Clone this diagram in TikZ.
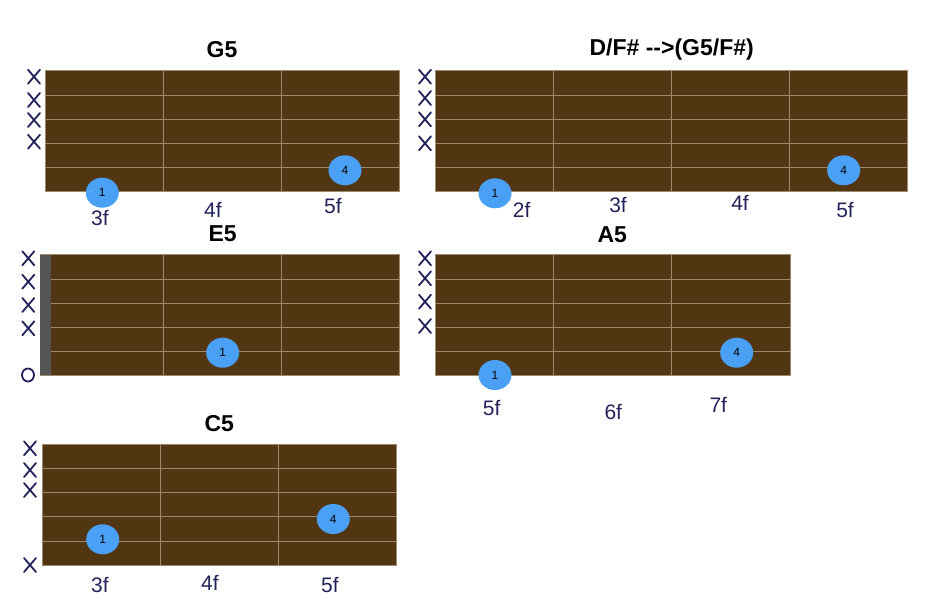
\documentclass[tikz,border=0pt]{standalone}
\usepackage{fontspec}
\setmainfont{Liberation Sans}
\usetikzlibrary{shapes.geometric}
\definecolor{board}{HTML}{523612}
\definecolor{fretline}{HTML}{9B8A70}
\definecolor{dotblue}{HTML}{4AA0F5}
\definecolor{nutgray}{HTML}{555555}
\definecolor{ink}{HTML}{22225A}
\tikzset{
  gridline/.style={draw=fretline,line width=0.6pt},
  title/.style={font=\fontsize{23}{26}\selectfont\bfseries,text=black},
  fdot/.style={ellipse,fill=dotblue,minimum width=33pt,minimum height=30pt,inner sep=0pt,font=\fontsize{12}{14}\selectfont},
  fret/.style={font=\fontsize{21}{24}\selectfont,text=ink},
  inkline/.style={draw=ink,line width=1.8pt,line cap=round},
  xm/.pic={\draw[inkline] (-6,-7)--(6,7) (-6,7)--(6,-7);},
}
\begin{document}
\begin{tikzpicture}[x=1pt,y=-1pt]
\useasboundingbox (0,0) rectangle (936,603);
% ---------- G5 ----------
\node[title] (tG) at (222,50) {G5};
\fill[board] (45.7,70.7) rectangle (399.3,191.3);
\foreach \y in {95.3,119.3,143.7,167.3} \draw[gridline] (45.7,\y)--(399.3,\y);
\foreach \x in {163.3,281.3} \draw[gridline] (\x,70.7)--(\x,191.3);
\draw[gridline] (45.7,70.7) rectangle (399.3,191.3);
\node[fdot] (g1) at (102.3,192.7) {1};
\node[fdot] (g4) at (345,170.3) {4};
\foreach \y in {76.7,100,120,141.7} \pic at (34,\y) {xm};
\node[fret] (g3f) at (100,218) {3f};
\node[fret] (g4f) at (213,210) {4f};
\node[fret] (g5f) at (333,206) {5f};
% ---------- D/F# ----------
\node[title] (tD) at (671.7,50) {D/F\# -{}->(G5/F\#)};
\fill[board] (435.7,70.7) rectangle (907.7,191.3);
\foreach \y in {95.3,119.3,143.7,167.3} \draw[gridline] (435.7,\y)--(907.7,\y);
\foreach \x in {553.3,671.3,789.3} \draw[gridline] (\x,70.7)--(\x,191.3);
\draw[gridline] (435.7,70.7) rectangle (907.7,191.3);
\node[fdot] (d1) at (495,193.3) {1};
\node[fdot] (d4) at (843.7,170.3) {4};
\foreach \y in {76.7,98,119.3,143.3} \pic at (425,\y) {xm};
\node[fret] (d2f) at (521.7,210) {2f};
\node[fret] (d3f) at (618,205) {3f};
\node[fret] (d4f) at (740,202.7) {4f};
\node[fret] (d5f) at (845,210) {5f};
% ---------- E5 ----------
\node[title] (tE) at (222.7,233.3) {E5};
\fill[board] (40,254.7) rectangle (399.3,375.3);
\foreach \y in {279,303,327.3,351.3} \draw[gridline] (40,\y)--(399.3,\y);
\foreach \x in {163.3,281.3} \draw[gridline] (\x,254.7)--(\x,375.3);
\draw[gridline] (40,254.7) rectangle (399.3,375.3);
\fill[nutgray] (40,254.7) rectangle (51.3,375.3);
\node[fdot] (e1) at (222.7,352.7) {1};
\foreach \y in {258.3,281.7,305,328.3} \pic at (28.3,\y) {xm};
\draw[inkline] (28,375) ellipse (6 and 6.5);
% ---------- A5 ----------
\node[title] (tA) at (612.3,235) {A5};
\fill[board] (435.7,254.7) rectangle (790,375.3);
\foreach \y in {279,303,327.3,351.3} \draw[gridline] (435.7,\y)--(790,\y);
\foreach \x in {553.3,671.3} \draw[gridline] (\x,254.7)--(\x,375.3);
\draw[gridline] (435.7,254.7) rectangle (790,375.3);
\node[fdot] (a1) at (495,375) {1};
\node[fdot] (a4) at (736.7,352.7) {4};
\foreach \y in {258.3,278.3,301.7,326} \pic at (425,\y) {xm};
\node[fret] (a5f) at (491.7,408.3) {5f};
\node[fret] (a6f) at (613.3,411.7) {6f};
\node[fret] (a7f) at (718.3,405) {7f};
% ---------- C5 ----------
\node[title] (tC) at (219.3,423.3) {C5};
\fill[board] (42.3,444.3) rectangle (396.7,565);
\foreach \y in {468.3,492.3,516.7,541} \draw[gridline] (42.3,\y)--(396.7,\y);
\foreach \x in {160.7,278.7} \draw[gridline] (\x,444.3)--(\x,565);
\draw[gridline] (42.3,444.3) rectangle (396.7,565);
\node[fdot] (c1) at (102.7,539.3) {1};
\node[fdot] (c4) at (333.3,519) {4};
\foreach \y in {448.3,470,490,565} \pic at (30,\y) {xm};
\node[fret] (c3f) at (100,585) {3f};
\node[fret] (c4f) at (210,583) {4f};
\node[fret] (c5f) at (330,585) {5f};
\end{tikzpicture}
\end{document}
